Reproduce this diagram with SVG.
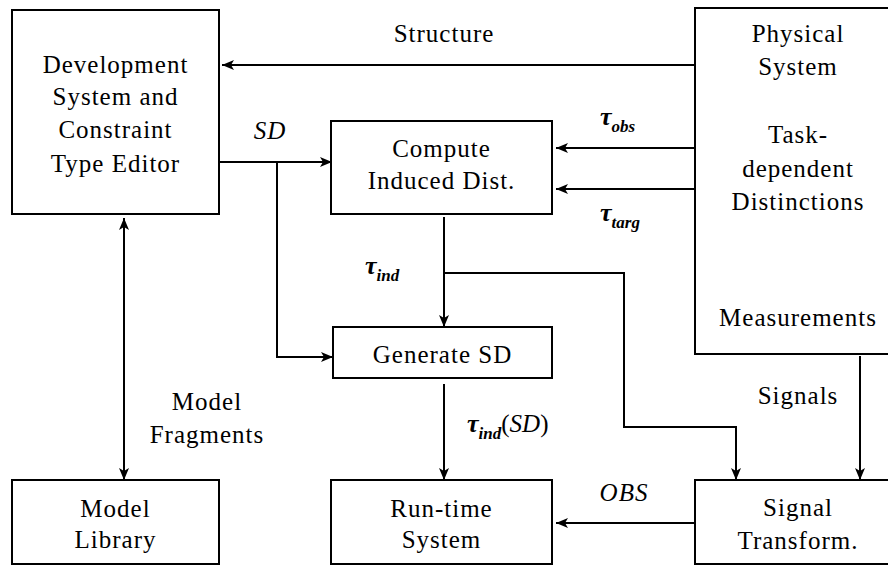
<svg xmlns="http://www.w3.org/2000/svg" width="888" height="566" viewBox="0 0 888 566" font-family="Liberation Serif, DejaVu Serif, serif">
<style>
  .box { fill: #ffffff; stroke: #000000; stroke-width: 2; }
  .t { font-size: 25px; fill: #000000; text-anchor: middle; letter-spacing: 1px; }
  .it { font-style: italic; }
  .m { font-size: 26px; font-weight: bold; font-style: italic; fill: #000000; }
  .sub { font-size: 17px; }
  .up { font-weight: normal; font-style: normal; font-size: 25px; }
  .mi { font-weight: normal; font-style: italic; font-size: 25px; }
  .ca { fill: none; stroke: #000000; stroke-width: 2; marker-end: url(#ah); }
  .cb { fill: none; stroke: #000000; stroke-width: 2; marker-end: url(#ah); marker-start: url(#as); }
</style>
<defs>
  <marker id="ah" viewBox="0 0 12 10" refX="12" refY="5" markerWidth="12" markerHeight="10" markerUnits="userSpaceOnUse" orient="auto">
    <path d="M0,0 L12,5 L0,10 L3,5 Z" fill="#000000"/>
  </marker>
  <marker id="as" viewBox="0 0 12 10" refX="0" refY="5" markerWidth="12" markerHeight="10" markerUnits="userSpaceOnUse" orient="auto">
    <path d="M12,0 L0,5 L12,10 L9,5 Z" fill="#000000"/>
  </marker>
</defs>
<rect x="0" y="0" width="888" height="566" fill="#ffffff"/>

<g id="connectors">
  <path class="ca" d="M695,65 L222,65"/>
  <path class="ca" d="M219,162 L332,162"/>
  <path class="ca" d="M277,162 L277,357 L333,357"/>
  <path class="ca" d="M695,148 L556,148"/>
  <path class="ca" d="M695,189 L556,189"/>
  <path class="ca" d="M444,217 L444,327"/>
  <path class="ca" d="M444,273 L624,273 L624,427 L736,427 L736,480"/>
  <path class="ca" d="M444,384 L444,480"/>
  <path class="ca" d="M860,356 L860,480"/>
  <path class="ca" d="M695,523 L556,523"/>
  <path class="cb" d="M124,218 L124,480"/>
</g>

<g id="labels">
  <text class="t" x="444" y="42">Structure</text>
  <text class="t it" x="270" y="139">SD</text>
  <text class="m" x="600" y="125">τ<tspan class="sub" dy="7">obs</tspan></text>
  <text class="m" x="600" y="221">τ<tspan class="sub" dy="7">targ</tspan></text>
  <text class="m" x="365" y="274">τ<tspan class="sub" dy="7">ind</tspan></text>
  <text class="m" x="467" y="432">τ<tspan class="sub" dy="7">ind</tspan><tspan class="up" dy="-7">(</tspan><tspan class="mi">SD</tspan><tspan class="up">)</tspan></text>
  <text class="t" x="207" y="410">Model</text>
  <text class="t" x="207" y="443">Fragments</text>
  <text class="t" x="798" y="404">Signals</text>
  <text class="t it" x="624" y="501">OBS</text>
</g>

<g id="dev">
  <rect class="box" x="12" y="10" width="207" height="204"/>
  <text class="t" x="115.5" y="73">Development</text>
  <text class="t" x="115.5" y="105">System and</text>
  <text class="t" x="115.5" y="138">Constraint</text>
  <text class="t" x="115.5" y="172">Type Editor</text>
</g>

<g id="compute">
  <rect class="box" x="331" y="121" width="221" height="93"/>
  <text class="t" x="441.5" y="157">Compute</text>
  <text class="t" x="441.5" y="189">Induced Dist.</text>
</g>

<g id="physical">
  <rect class="box" x="695" y="8" width="206" height="346"/>
  <text class="t" x="798" y="42">Physical</text>
  <text class="t" x="798" y="75">System</text>
  <text class="t" x="798" y="143">Task-</text>
  <text class="t" x="798" y="177">dependent</text>
  <text class="t" x="798" y="210">Distinctions</text>
  <text class="t" x="798" y="326">Measurements</text>
</g>

<g id="generate">
  <rect class="box" x="333" y="327" width="219" height="51"/>
  <text class="t" x="442.5" y="363">Generate SD</text>
</g>

<g id="library">
  <rect class="box" x="12" y="480" width="207" height="84"/>
  <text class="t" x="115.5" y="517">Model</text>
  <text class="t" x="115.5" y="548">Library</text>
</g>

<g id="runtime">
  <rect class="box" x="331" y="480" width="221" height="84"/>
  <text class="t" x="441.5" y="517">Run-time</text>
  <text class="t" x="441.5" y="548">System</text>
</g>

<g id="signal">
  <rect class="box" x="695" y="480" width="206" height="84"/>
  <text class="t" x="798" y="516">Signal</text>
  <text class="t" x="798" y="549">Transform.</text>
</g>
</svg>
